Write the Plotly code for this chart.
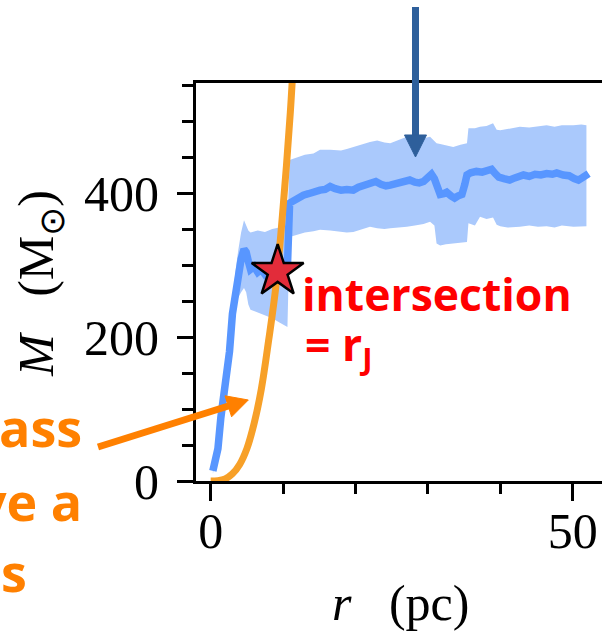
import plotly.graph_objects as go

# Enclosed mass profile (median) vs radius
r_prof = [0.3, 0.7, 1.0, 1.4, 2.1, 2.6, 3.0, 3.4, 3.8, 4.2, 4.6, 4.9, 5.2, 5.5, 6.0, 6.5,
          7.0, 7.5, 8.0, 8.5, 9.0, 9.5, 10.0, 10.6, 10.9, 11.5, 12.2, 12.8, 13.5, 14.2,
          15.1, 15.8, 16.5, 17.2, 18.0, 18.8, 19.7, 20.4, 21.2, 22.0, 22.8, 23.5, 24.2,
          24.8, 25.5, 26.2, 27.0, 27.5, 28.2, 28.8, 29.4, 29.9, 30.5, 30.9, 31.3, 31.7,
          32.2, 32.6, 33.2, 33.7, 34.2, 34.7, 35.1, 35.4, 35.9, 36.7, 37.5, 38.1, 38.8,
          39.3, 39.8, 40.5, 41.3, 42.0, 42.6, 43.2, 44.0, 44.8, 45.6, 46.4, 47.2, 47.8,
          48.7, 49.5, 50.2, 50.8, 51.3, 51.8, 52.2]
m_prof = [14, 30, 45, 88, 136, 180, 232, 262, 285, 308, 322, 318, 305, 294, 298, 290,
          294, 287, 291, 288, 292, 289, 293, 298, 386, 390, 395, 397, 399, 402,
          404, 405, 409, 406, 404, 405, 404, 408, 410, 414, 416, 412, 410,
          411, 413, 414, 416, 418, 415, 414, 416, 421, 426, 420, 410, 398,
          399, 401, 396, 393, 396, 398, 412, 425, 428, 430, 429, 432, 433,
          427, 422, 420, 418, 421, 423, 425, 423, 426, 425, 427, 426, 428,
          425, 424, 420, 418, 421, 426, 427]

# Scatter envelope of the enclosed mass
r_band = [0.3, 1.0, 1.4, 2.1, 2.6, 3.0, 3.4, 3.8, 4.2, 4.6, 4.9, 5.2, 5.5, 6.5, 7.5, 8.5,
          9.5, 10.6, 10.9, 12.0, 13.0, 14.2, 15.1, 16.5, 18.0, 18.8, 19.7, 20.8, 22.0,
          23.0, 24.0, 24.8, 26.0, 27.1, 28.2, 29.4, 30.3, 30.9, 31.2, 31.7, 32.5, 33.5,
          34.5, 35.4, 35.6, 36.5, 37.2, 38.1, 39.0, 39.5, 40.0, 41.0, 42.7, 44.0, 45.2,
          46.4, 47.5, 48.5, 50.1, 51.2, 51.9]
m_low = [10, 39, 82, 127, 170, 218, 242, 255, 262, 268, 262, 245, 238, 234, 230, 226,
         220, 214, 339, 342, 345, 347, 349, 348, 346, 345, 346, 349, 353,
         351, 350, 351, 352, 353, 355, 357, 360, 355, 330, 327, 329, 330,
         331, 332, 358, 355, 367, 364, 366, 356, 354, 352, 353, 355, 353,
         354, 352, 355, 353, 353, 354]
m_high = [18, 51, 95, 146, 192, 248, 290, 320, 345, 362, 355, 348, 345, 348, 346, 350,
          352, 356, 446, 450, 453, 455, 460, 460, 459, 461, 464, 467, 471,
          473, 470, 469, 474, 478, 476, 476, 478, 472, 469, 468, 466, 464,
          467, 469, 490, 490, 492, 493, 497, 488, 487, 489, 492, 491, 493,
          494, 492, 494, 494, 495, 494]

# Tidal (Jacobi) mass curve
r_tidal = [0, 1, 2, 3, 4, 5, 6, 7, 8, 9, 10, 11, 11.5]
m_tidal = [0, 0.5, 3, 10, 23, 45, 80, 128, 195, 270, 380, 512, 600]

# Crossing point of the two curves
r_cross = [9.25]
m_cross = [291]

x_ticks = [0, 50]
y_ticks = [0, 200, 400]

W, H = 602, 633
L, R, T, B = 196, 602, 83, 481
X_RANGE = [-2.03, 54.05]
Y_RANGE = [0, 552.8]

ORANGE = "#ff8000"
ARROW_BLUE = "rgb(46,95,155)"
NB = "\u00a0"


def px(p):
    return (p - L) / (R - L)


def py(p):
    return (B - p) / (B - T)


def tri_path(pts):
    return "M " + " L ".join(f"{px(a):.5f},{py(b):.5f}" for a, b in pts) + " Z"


fig = go.Figure()

fig.add_trace(go.Scatter(x=r_band, y=m_high, mode="lines", line=dict(width=0),
                         hoverinfo="skip", showlegend=False))
fig.add_trace(go.Scatter(x=r_band, y=m_low, mode="lines", line=dict(width=0),
                         fill="tonexty", fillcolor="rgb(170,201,252)",
                         hoverinfo="skip", showlegend=False))
fig.add_trace(go.Scatter(x=r_prof, y=m_prof, mode="lines",
                         line=dict(color="rgb(88,150,255)", width=7.5),
                         showlegend=False))
fig.add_trace(go.Scatter(x=r_tidal, y=m_tidal, mode="lines",
                         line=dict(color="rgb(247,160,40)", width=7, shape="spline"),
                         showlegend=False))
fig.add_trace(go.Scatter(x=r_cross, y=m_cross, mode="markers",
                         marker=dict(symbol="star", size=39, color="rgb(226,44,58)",
                                     line=dict(color="black", width=2.5)),
                         showlegend=False, cliponaxis=False))

serif = "Liberation Serif"
tick_font = dict(family=serif, size=50, color="black")

fig.update_xaxes(range=X_RANGE, tickmode="array", tickvals=x_ticks,
                 ticktext=[str(v) for v in x_ticks], ticks="outside", ticklen=17,
                 tickwidth=3, tickcolor="black", showline=True, linewidth=3,
                 linecolor="black", mirror=True, showgrid=False, zeroline=False,
                 tickfont=tick_font, ticklabelstandoff=-13,
                 minor=dict(tickmode="linear", tick0=0, dtick=10, ticks="outside",
                            ticklen=10, tickwidth=2.5, tickcolor="black", showgrid=False))
fig.update_yaxes(range=Y_RANGE, tickmode="array", tickvals=y_ticks,
                 ticktext=[str(v) for v in y_ticks], ticks="outside", ticklen=16,
                 tickwidth=3, tickcolor="black", showline=True, linewidth=3,
                 linecolor="black", mirror=False, showgrid=False, zeroline=False,
                 tickfont=tick_font, ticklabelstandoff=8,
                 minor=dict(tickmode="linear", tick0=0, dtick=50, ticks="outside",
                            ticklen=11, tickwidth=2.5, tickcolor="black", showgrid=False))

annotations = [
    # axis titles
    dict(x=px(400), y=py(603), xref="paper", yref="paper",
         text=f"<i>r</i>{NB}{NB}{NB}(pc)",
         showarrow=False, xanchor="center", yanchor="middle",
         font=dict(family=serif, size=50, color="black")),
    dict(x=px(40), y=py(284), xref="paper", yref="paper",
         text=f"<i>M</i>{NB}{NB}{NB}(M<sub>⊙</sub>)", textangle=-90, showarrow=False,
         xanchor="center", yanchor="middle",
         font=dict(family=serif, size=50, color="black")),
    # crossing label
    dict(x=px(300), y=py(293), xref="paper", yref="paper", text="<b>intersection</b>",
         showarrow=False, xanchor="left", yanchor="middle",
         font=dict(family="Open Sans", size=44.5, color="#ff0000")),
    dict(x=px(303), y=py(346), xref="paper", yref="paper", text="<b>= r<sub>J</sub></b>",
         showarrow=False, xanchor="left", yanchor="middle",
         font=dict(family="Open Sans", size=44.5, color="#ff0000")),
    # orange side text
    dict(x=px(84), y=py(426), xref="paper", yref="paper", text="<b>ass</b>",
         showarrow=False, xanchor="right", yanchor="middle",
         font=dict(family="Open Sans", size=52, color=ORANGE)),
    dict(x=px(84), y=py(500), xref="paper", yref="paper", text="<b>ve a</b>",
         showarrow=False, xanchor="right", yanchor="middle",
         font=dict(family="Open Sans", size=52, color=ORANGE)),
    dict(x=px(29), y=py(571), xref="paper", yref="paper", text="<b>s</b>",
         showarrow=False, xanchor="right", yanchor="middle",
         font=dict(family="Open Sans", size=52, color=ORANGE)),
]

shapes = [
    # orange pointer towards the tidal curve
    dict(type="line", xref="paper", yref="paper", x0=px(98), y0=py(447),
         x1=px(230), y1=py(405.5), line=dict(color=ORANGE, width=7)),
    dict(type="path", xref="paper", yref="paper",
         path=tri_path([(248.3, 400), (231.6, 416.8), (225.0, 395.8)]),
         fillcolor=ORANGE, line=dict(color=ORANGE, width=1)),
    # blue pointer towards the profile plateau
    dict(type="line", xref="paper", yref="paper", x0=px(415.5), y0=py(7),
         x1=px(415.5), y1=py(137), line=dict(color=ARROW_BLUE, width=7)),
    dict(type="path", xref="paper", yref="paper",
         path=tri_path([(404.5, 135), (426.5, 135), (415.5, 157)]),
         fillcolor=ARROW_BLUE, line=dict(color=ARROW_BLUE, width=1)),
]

fig.update_layout(width=W, height=H, margin=dict(l=L, r=W - R, t=T, b=H - B),
                  plot_bgcolor="white", paper_bgcolor="white",
                  annotations=annotations, shapes=shapes, showlegend=False)

fig.write_html("out.html")
